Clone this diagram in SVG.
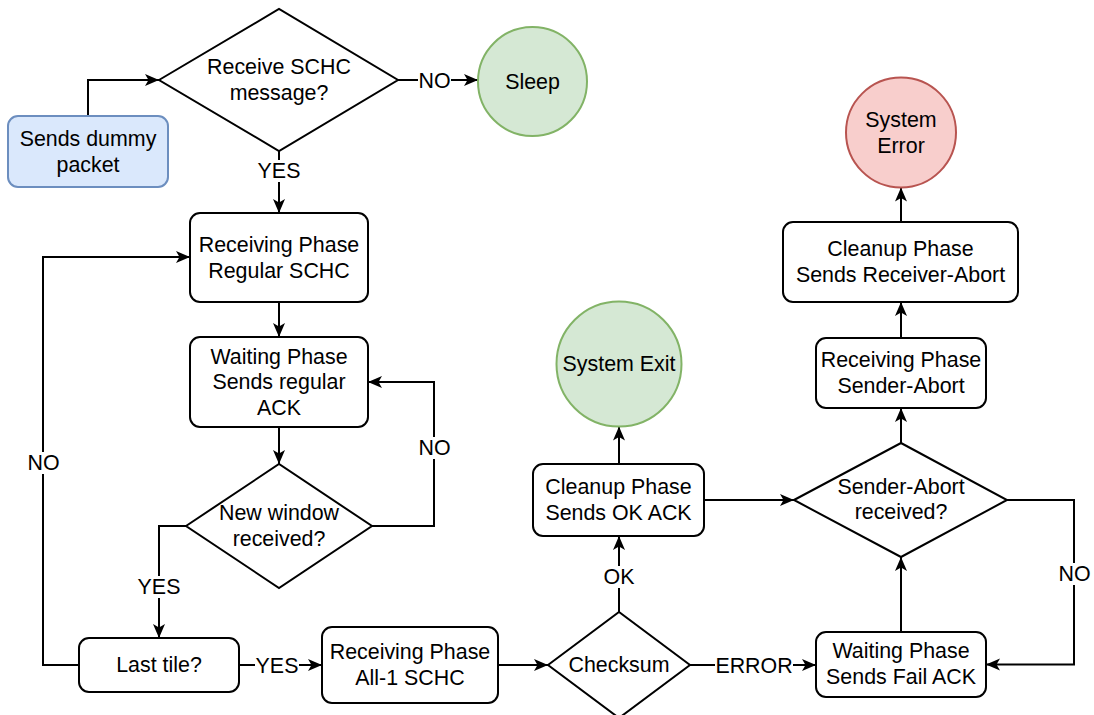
<svg xmlns="http://www.w3.org/2000/svg" width="1094" height="715" viewBox="0 0 1094 715">
  <style>
    text { font-family: "Liberation Sans", Arial, Helvetica, sans-serif; font-size: 21.4px; fill: #000; text-anchor: middle; }
    .box { fill: #ffffff; stroke: #000; stroke-width: 2; }
    .dec { fill: #ffffff; stroke: #000; stroke-width: 2; stroke-linejoin: miter; }
    .start { fill: #dae8fc; stroke: #6c8ebf; stroke-width: 2; }
    .ok { fill: #d5e8d4; stroke: #82b366; stroke-width: 2; }
    .err { fill: #f8cecc; stroke: #b85450; stroke-width: 2; }
    .edge { fill: none; stroke: #000; stroke-width: 2; marker-end: url(#arrow); }
    .lbl-bg { fill: #ffffff; stroke: none; }
  </style>
  <defs>
    <marker id="arrow" markerUnits="userSpaceOnUse" markerWidth="15" markerHeight="13" refX="14" refY="6" orient="auto">
      <path d="M0,0 L14,6 L0,12 L3.5,6 Z" fill="#000"/>
    </marker>
  </defs>

  <rect width="1094" height="715" fill="#ffffff"/>

  <!-- connectors -->
  <g id="connectors">
    <path class="edge" d="M88,116 V80 H159"/>
    <path class="edge" d="M398,80 H478"/>
    <path class="edge" d="M279,151 V213"/>
    <path class="edge" d="M279,302 V337"/>
    <path class="edge" d="M279,427 V464"/>
    <path class="edge" d="M372,526 H434 V382 H368"/>
    <path class="edge" d="M186,526 H159 V638"/>
    <path class="edge" d="M79,665 H43 V257 H190"/>
    <path class="edge" d="M239,665 H322"/>
    <path class="edge" d="M498,665 H548"/>
    <path class="edge" d="M619,612 V536"/>
    <path class="edge" d="M690,665 H816"/>
    <path class="edge" d="M619,464 V426.5"/>
    <path class="edge" d="M704,500 H794"/>
    <path class="edge" d="M901,632 V557"/>
    <path class="edge" d="M901,443 V408"/>
    <path class="edge" d="M1007,500 H1074 V664.5 H986"/>
    <path class="edge" d="M901,338 V302"/>
    <path class="edge" d="M901,222 V187.5"/>

    <!-- edge labels -->
    <rect class="lbl-bg" x="418" y="69" width="33" height="22"/>
    <text x="434.5" y="87.5">NO</text>
    <rect class="lbl-bg" x="257" y="160" width="44" height="22"/>
    <text x="279" y="178">YES</text>
    <rect class="lbl-bg" x="418" y="437" width="33" height="22"/>
    <text x="434.5" y="455">NO</text>
    <rect class="lbl-bg" x="137" y="576" width="44" height="22"/>
    <text x="159" y="594">YES</text>
    <rect class="lbl-bg" x="27" y="452" width="33" height="22"/>
    <text x="43.5" y="470">NO</text>
    <rect class="lbl-bg" x="255" y="654" width="44" height="22"/>
    <text x="277" y="672.5">YES</text>
    <rect class="lbl-bg" x="603" y="566" width="32" height="22"/>
    <text x="619" y="584">OK</text>
    <rect class="lbl-bg" x="715" y="654" width="78" height="22"/>
    <text x="754" y="672.5">ERROR</text>
    <rect class="lbl-bg" x="1058" y="563" width="33" height="22"/>
    <text x="1074.5" y="581">NO</text>
  </g>

  <!-- nodes -->
  <g id="dummy">
    <rect class="start" x="8" y="116" width="160" height="71" rx="10"/>
    <text x="88" y="145.5">Sends dummy</text>
    <text x="88" y="172">packet</text>
  </g>

  <g id="receive-msg">
    <polygon class="dec" points="159,80 279,9 398,80 279,151"/>
    <text x="279" y="74">Receive SCHC</text>
    <text x="279" y="100">message?</text>
  </g>

  <g id="sleep">
    <circle class="ok" cx="532.5" cy="81.5" r="54.5"/>
    <text x="532.5" y="88.5">Sleep</text>
  </g>

  <g id="recv-regular">
    <rect class="box" x="190" y="213" width="178" height="89" rx="10"/>
    <text x="279" y="251.5">Receiving Phase</text>
    <text x="279" y="278">Regular SCHC</text>
  </g>

  <g id="wait-regular">
    <rect class="box" x="190" y="337" width="178" height="90" rx="10"/>
    <text x="279" y="363.5">Waiting Phase</text>
    <text x="279" y="389">Sends regular</text>
    <text x="279" y="414.5">ACK</text>
  </g>

  <g id="new-window">
    <polygon class="dec" points="186,526 279,464 372,526 279,588"/>
    <text x="279" y="520">New window</text>
    <text x="279" y="546">received?</text>
  </g>

  <g id="last-tile">
    <rect class="box" x="79" y="638" width="160" height="54" rx="10"/>
    <text x="159" y="672">Last tile?</text>
  </g>

  <g id="recv-all1">
    <rect class="box" x="322" y="627" width="176" height="76" rx="10"/>
    <text x="410" y="658.5">Receiving Phase</text>
    <text x="410" y="685">All-1 SCHC</text>
  </g>

  <g id="checksum">
    <polygon class="dec" points="548,665 619,612 690,665 619,718"/>
    <text x="619" y="672">Checksum</text>
  </g>

  <g id="cleanup-ok">
    <rect class="box" x="533" y="464" width="171" height="72" rx="10"/>
    <text x="618.5" y="493.5">Cleanup Phase</text>
    <text x="618.5" y="519.5">Sends OK ACK</text>
  </g>

  <g id="system-exit">
    <circle class="ok" cx="619" cy="364" r="62.5"/>
    <text x="619" y="371">System Exit</text>
  </g>

  <g id="wait-fail">
    <rect class="box" x="816" y="632" width="170" height="65" rx="10"/>
    <text x="901" y="658">Waiting Phase</text>
    <text x="901" y="684">Sends Fail ACK</text>
  </g>

  <g id="sender-abort">
    <polygon class="dec" points="794,500 901,443 1007,500 901,557"/>
    <text x="901" y="493.5">Sender-Abort</text>
    <text x="901" y="518.5">received?</text>
  </g>

  <g id="recv-sender-abort">
    <rect class="box" x="816" y="338" width="170" height="70" rx="10"/>
    <text x="901" y="367">Receiving Phase</text>
    <text x="901" y="393">Sender-Abort</text>
  </g>

  <g id="cleanup-abort">
    <rect class="box" x="783" y="222" width="235" height="80" rx="10"/>
    <text x="900.5" y="256">Cleanup Phase</text>
    <text x="900.5" y="282">Sends Receiver-Abort</text>
  </g>

  <g id="system-error">
    <circle class="err" cx="901" cy="132.5" r="55"/>
    <text x="901" y="126.5">System</text>
    <text x="901" y="152.5">Error</text>
  </g>
</svg>
